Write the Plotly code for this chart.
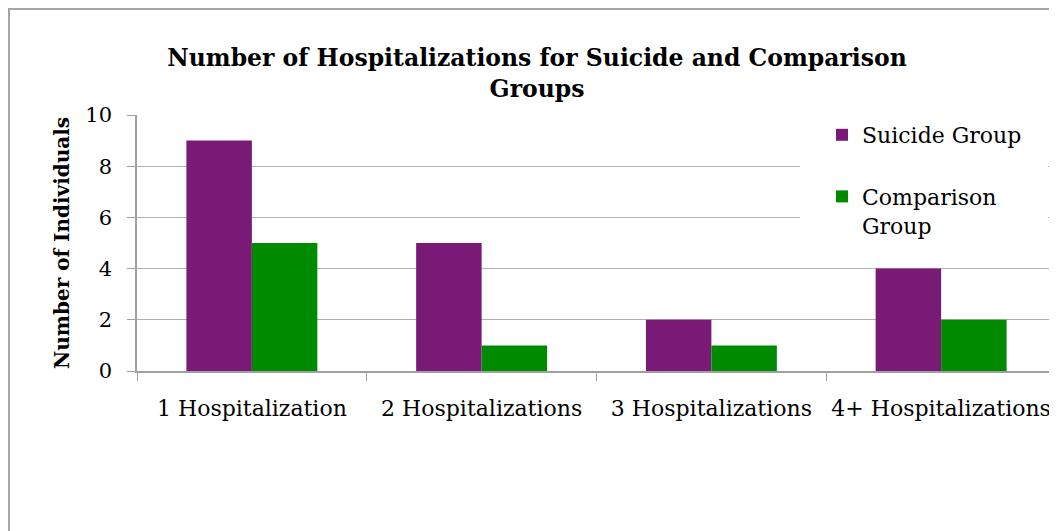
import plotly.graph_objects as go

categories = ["1 Hospitalization", "2 Hospitalizations", "3 Hospitalizations", "4+ Hospitalizations"]
suicide_group = [9, 5, 2, 4]
comparison_group = [5, 1, 1, 2]
series_names = ["Suicide Group", "Comparison<br>Group"]
y_ticks = [0, 2, 4, 6, 8, 10]

FONT = "DejaVu Serif"
OFF = 8  # page body margin
W, H = 1057 - OFF, 531 - OFF
# page-pixel geometry of plot area
PL, PR, PT, PB = 137, 1056, 115, 371
L, T = PL - OFF, PT - OFF
R = W - (PR - OFF)
B = H - (PB - OFF)
pw, ph = W - L - R, H - T - B


def px_x(x):
    return (x - OFF - L) / pw


def px_y(y):
    return (H - B - (y - OFF)) / ph


fig = go.Figure()
fig.add_trace(go.Bar(x=categories, y=suicide_group, name=series_names[0], legendgroup="a",
                     marker=dict(color="#7a1a77", line=dict(width=0))))
fig.add_trace(go.Bar(x=categories, y=comparison_group, name=series_names[1], legendgroup="b",
                     marker=dict(color="#008a00", line=dict(width=0))))

# outer chart frame
fig.add_shape(type="rect", xref="paper", yref="paper",
              x0=px_x(9), x1=px_x(1100), y0=px_y(600), y1=px_y(9),
              line=dict(color="#a6a6a6", width=2), fillcolor="rgba(0,0,0,0)", layer="below")
# white legend box hiding gridlines
fig.add_shape(type="rect", xref="paper", yref="paper",
              x0=px_x(800), x1=px_x(1048), y0=px_y(265), y1=px_y(116.5),
              line=dict(width=0), fillcolor="white", layer="above")

fig.update_layout(
    width=W, height=H,
    margin=dict(l=L, r=R, t=T, b=B),
    paper_bgcolor="white", plot_bgcolor="white",
    font=dict(family=FONT, color="black", size=22),
    bargap=0.43, bargroupgap=0,
    title=dict(text="<b>Number of Hospitalizations for Suicide and Comparison<br>Groups</b>",
               x=(537 - OFF) / W, xanchor="center", y=1 - (66 - OFF) / H, yanchor="top",
               font=dict(family=FONT, size=23.5)),
    xaxis=dict(showline=True, linecolor="#a0a0a0", linewidth=1.5,
               ticks="outside", tickson="boundaries", ticklen=8, tickcolor="#a0a0a0",
               showgrid=False, tickfont=dict(size=22), ticklabelstandoff=17),
    yaxis=dict(range=[0, 10], tickvals=y_ticks, showline=True, linecolor="#a0a0a0", linewidth=1.5,
               ticks="outside", ticklen=8, tickcolor="#a0a0a0",
               gridcolor="#b0b0b0", gridwidth=1.2, zeroline=False,
               tickfont=dict(size=21), ticklabelstandoff=11,
               title=dict(text="<b>Number of Individuals</b>", font=dict(size=20), standoff=10)),
    legend=dict(x=px_x(822), y=px_y(114), xanchor="left", yanchor="top", bgcolor="rgba(0,0,0,0)",
                font=dict(size=22), tracegroupgap=30, itemwidth=30, valign="top",
                traceorder="grouped"),
    showlegend=True,
)

fig.write_html("out.html")
